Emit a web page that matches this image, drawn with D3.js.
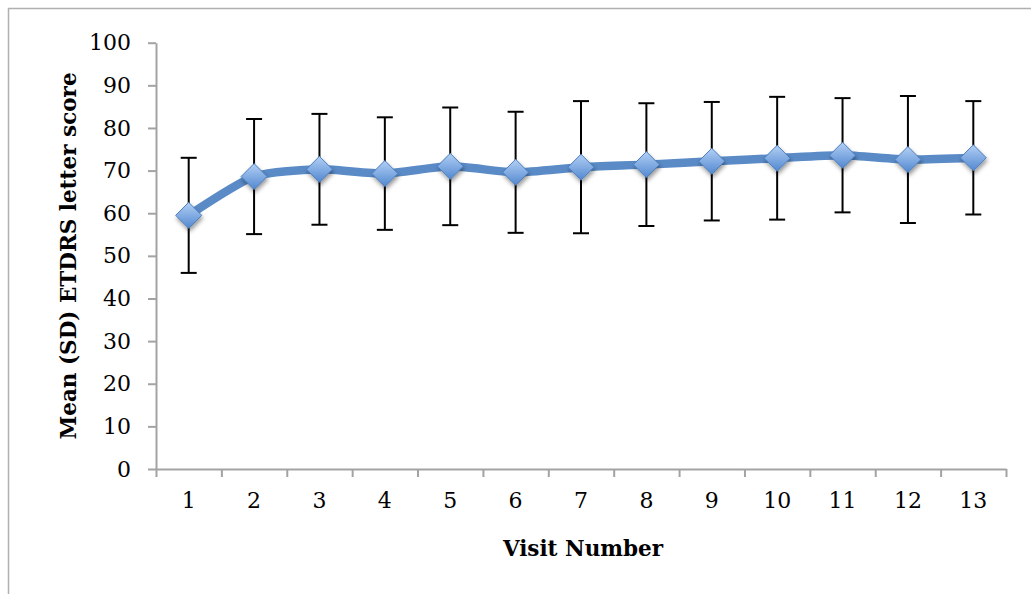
<!DOCTYPE html>
<html>
<head>
<meta charset="utf-8">
<script src="https://cdn.jsdelivr.net/npm/d3@7"></script>
<style>
html,body{margin:0;padding:0;background:#fff;}
svg{display:block;}
</style>
</head>
<body>
<svg id="chart" width="1031" height="594"></svg>
<script>
const visits = ["1","2","3","4","5","6","7","8","9","10","11","12","13"];
const meanScore = [59.5, 68.6, 70.3, 69.3, 71.0, 69.6, 70.8, 71.4, 72.2, 72.9, 73.6, 72.6, 73.0];
const sdScore   = [13.5, 13.5, 13.0, 13.2, 13.8, 14.2, 15.5, 14.4, 13.9, 14.4, 13.4, 14.9, 13.3];
const yTicks = [0,10,20,30,40,50,60,70,80,90,100];
const xTitle = "Visit Number";
const yTitle = "Mean (SD) ETDRS letter score";

(function(){
const svg = d3.select("#chart");
const font = "'DejaVu Serif', serif";
const axisColor = "#a3a3a3";

// outer frame (right/bottom edges fall outside the picture)
svg.append("rect").attr("x",8.5).attr("y",8.5).attr("width",1100).attr("height",700)
  .attr("fill","none").attr("stroke","#b0b0b0").attr("stroke-width",1.5);

const pL = 156, pR = 1006, pT = 42.7, pB = 469;
const x = d3.scaleBand().domain(visits).range([pL, pR]);
const xEdge = d3.scaleLinear().domain([0, visits.length]).range([pL, pR]);
const y = d3.scaleLinear().domain([0, 100]).range([pB, pT]);

const defs = svg.append("defs");
const grad = defs.append("linearGradient").attr("id","mk").attr("x1",0).attr("y1",0).attr("x2",0).attr("y2",1);
grad.append("stop").attr("offset","0%").attr("stop-color","#b3d0f5");
grad.append("stop").attr("offset","100%").attr("stop-color","#5288d0");
const filt = defs.append("filter").attr("id","sh").attr("x","-50%").attr("y","-50%").attr("width","200%").attr("height","200%");
filt.append("feDropShadow").attr("dx",1).attr("dy",3).attr("stdDeviation",2.2).attr("flood-color","#000").attr("flood-opacity",0.4);

// Y axis
const yAxis = svg.append("g").attr("transform",`translate(${pL},0)`)
  .call(d3.axisLeft(y).tickValues(yTicks).tickSize(8).tickPadding(17).tickSizeOuter(0));
yAxis.select(".domain").attr("stroke",axisColor).attr("stroke-width",2);
yAxis.selectAll(".tick line").attr("stroke",axisColor).attr("stroke-width",2);
yAxis.selectAll("text").attr("font-family",font).attr("font-size",22).attr("fill","#000");

// X axis: boundary ticks
const xTickAxis = svg.append("g").attr("transform",`translate(0,${pB})`)
  .call(d3.axisBottom(xEdge).ticks(visits.length).tickFormat("").tickSize(8).tickSizeOuter(0));
xTickAxis.select(".domain").attr("stroke",axisColor).attr("stroke-width",2);
xTickAxis.selectAll(".tick line").attr("stroke",axisColor).attr("stroke-width",2);
// X labels
const xLab = svg.append("g").attr("transform",`translate(0,${pB})`)
  .call(d3.axisBottom(x).tickSize(0).tickPadding(23));
xLab.select(".domain").remove();
xLab.selectAll("text").attr("font-family",font).attr("font-size",22).attr("fill","#000");

// titles
svg.append("text").attr("x",583).attr("y",556).attr("text-anchor","middle")
  .attr("font-family",font).attr("font-weight","bold").attr("font-size",21.5).text(xTitle);
svg.append("text").attr("transform","translate(76,256) rotate(-90)").attr("text-anchor","middle")
  .attr("font-family",font).attr("font-weight","bold").attr("font-size",21.5).text(yTitle);

const pts = visits.map((v,i)=>({v, m: meanScore[i], sd: sdScore[i]}));
const cx = d => x(d.v) + x.bandwidth()/2;

// line
svg.append("path").datum(pts)
  .attr("d", d3.line().x(cx).y(d=>y(d.m)).curve(d3.curveCardinal.tension(0.35)))
  .attr("fill","none").attr("stroke","#5a8bc7").attr("stroke-width",8.5).attr("stroke-linejoin","round");

// error bars
const eb = svg.append("g").attr("stroke","#000").attr("stroke-width",2);
pts.forEach(d=>{
  const xx = cx(d);
  eb.append("line").attr("x1",xx).attr("x2",xx).attr("y1",y(d.m+d.sd)).attr("y2",y(d.m-d.sd));
  eb.append("line").attr("x1",xx-8).attr("x2",xx+8).attr("y1",y(d.m+d.sd)).attr("y2",y(d.m+d.sd));
  eb.append("line").attr("x1",xx-8).attr("x2",xx+8).attr("y1",y(d.m-d.sd)).attr("y2",y(d.m-d.sd));
});

// markers
svg.append("g").selectAll("path").data(pts).join("path")
  .attr("transform", d=>`translate(${cx(d)},${y(d.m)})`)
  .attr("d","M0,-13L13,0L0,13L-13,0Z")
  .attr("fill","url(#mk)").attr("stroke","#4c7dbd").attr("stroke-width",1)
  .attr("filter","url(#sh)");
})();
</script>
</body>
</html>
